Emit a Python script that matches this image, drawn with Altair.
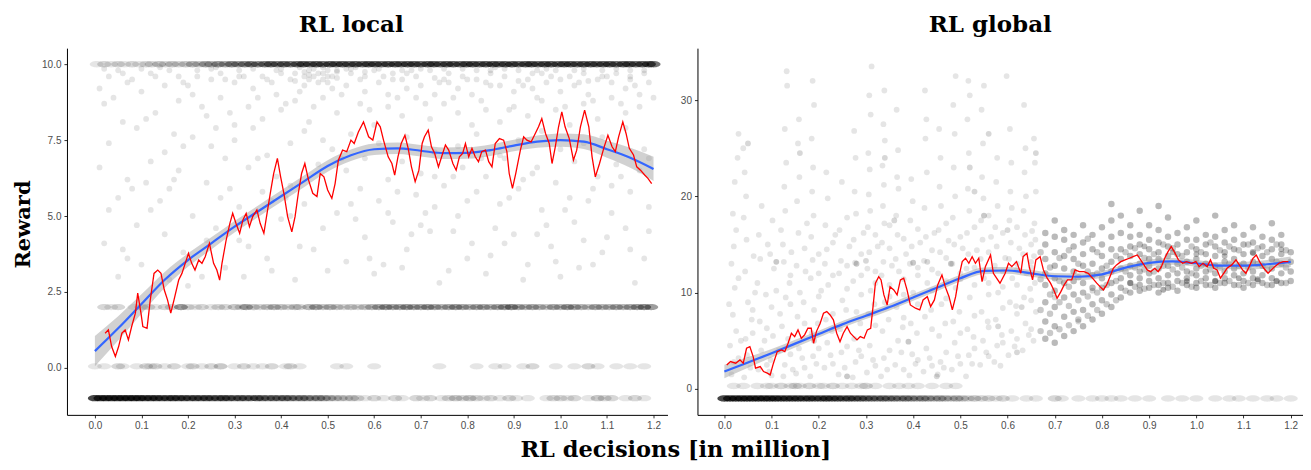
import altair as alt
import pandas as pd

# ---------------- data ----------------
X_TICKS = [0.0, 0.1, 0.2, 0.3, 0.4, 0.5, 0.6, 0.7, 0.8, 0.9, 1.0, 1.1, 1.2]
LEFT_Y_TICKS = [0.0, 2.5, 5.0, 7.5, 10.0]
RIGHT_Y_TICKS = [0, 10, 20, 30]

# RL local: scattered rewards (x in million decisions, reward)
local_scatter = [(0.01,9.2),(0.01,6.6),(0.02,4.1),(0.02,8.7),(0.03,9.6),(0.03,7.4),(0.05,3.0),(0.05,5.6),(0.05,9.8),(0.06,8.1),(0.07,6.2),(0.07,9.4),(0.09,4.7),(0.09,7.9),(0.10,9.1),(0.10,3.4),(0.12,6.8),(0.12,9.7),(0.12,5.2),(0.13,8.4),(0.15,7.1),(0.15,9.3),(0.15,4.4),(0.16,5.9),(0.18,8.8),(0.18,6.5),(0.18,9.6),(0.19,3.8),(0.21,7.6),(0.21,9.0),(0.21,5.0),(0.22,9.8),(0.24,6.1),(0.24,8.3),(0.24,4.2),(0.25,9.5),(0.25,7.3),(0.27,5.6),(0.27,8.9),(0.27,9.7),(0.28,3.3),(0.28,6.9),(0.30,8.0),(0.30,9.4),(0.30,7.5),(0.31,5.3),(0.31,9.8),(0.33,6.6),(0.33,8.6),(0.33,4.0),(0.34,9.2),(0.34,7.9),(0.36,5.8),(0.36,9.6),(0.36,8.2),(0.37,3.6),(0.37,7.0),(0.39,9.0),(0.39,6.3),(0.39,9.8),(0.40,8.5),(0.40,4.9),(0.42,7.4),(0.42,9.5),(0.42,6.0),(0.43,9.7),(0.43,8.8),(0.43,2.9),(0.45,9.6),(0.45,9.3),(0.45,5.4),(0.45,7.8),(0.46,9.8),(0.46,9.5),(0.46,8.1),(0.48,9.7),(0.48,9.4),(0.48,6.7),(0.49,9.9),(0.49,4.6),(0.49,8.9),(0.51,9.6),(0.51,7.2),(0.51,9.2),(0.52,5.1),(0.52,9.8),(0.52,8.4),(0.54,6.5),(0.54,9.3),(0.54,3.5),(0.55,9.7),(0.55,7.7),(0.57,8.7),(0.57,5.9),(0.57,9.5),(0.58,4.3),(0.58,9.1),(0.58,6.9),(0.60,9.8),(0.60,8.0),(0.60,3.1),(0.61,7.4),(0.61,9.4),(0.61,5.5),(0.63,9.0),(0.63,6.2),(0.63,8.6),(0.64,9.7),(0.64,4.8),(0.66,8.3),(0.66,9.5),(0.66,6.8),(0.67,3.9),(0.67,9.2),(0.67,7.6),(0.69,9.6),(0.69,5.7),(0.69,8.9),(0.70,6.4),(0.70,9.3),(0.72,9.8),(0.72,8.2),(0.72,4.5),(0.73,7.1),(0.73,9.0),(0.73,5.3),(0.75,9.5),(0.75,6.0),(0.75,8.7),(0.76,3.2),(0.76,9.7),(0.78,8.4),(0.78,9.2),(0.78,7.3),(0.78,5.0),(0.79,9.6),(0.79,6.6),(0.81,9.0),(0.81,4.1),(0.81,8.0),(0.82,9.8),(0.82,7.7),(0.82,5.8),(0.84,6.3),(0.84,9.4),(0.84,8.5),(0.85,9.7),(0.85,3.7),(0.87,8.1),(0.87,9.3),(0.87,5.4),(0.87,7.0),(0.88,9.6),(0.88,6.9),(0.90,9.1),(0.90,4.4),(0.90,8.6),(0.91,9.8),(0.91,7.5),(0.91,5.9),(0.93,8.3),(0.93,9.5),(0.93,3.4),(0.94,6.4),(0.94,9.2),(0.96,9.7),(0.96,7.8),(0.96,5.2),(0.96,8.8),(0.97,9.4),(0.97,4.7),(0.99,8.5),(0.99,9.8),(0.99,6.1),(1.00,7.2),(1.00,9.1),(1.00,3.0),(1.02,9.6),(1.02,8.0),(1.02,5.6),(1.03,9.3),(1.03,6.8),(1.05,8.7),(1.05,9.7),(1.05,4.2),(1.05,7.4),(1.06,9.0),(1.06,5.5),(1.08,9.5),(1.08,8.2),(1.08,6.3),(1.09,9.8),(1.09,3.8),(1.09,7.6),(1.11,8.9),(1.11,9.4),(1.11,5.1),(1.12,9.7),(1.12,6.7),(1.14,8.4),(1.14,9.2),(1.14,4.6),(1.14,7.9),(1.15,9.6),(1.15,5.8),(1.17,9.0),(1.17,8.6),(1.17,6.5),(1.18,9.8),(1.18,3.6),(1.18,7.2),(1.19,9.4),(1.19,5.3)]
local_scatter_2 = [(0.04,8.9),(0.08,9.5),(0.11,8.2),(0.14,9.9),(0.17,7.7),(0.20,9.3),(0.23,8.6),(0.26,9.9),(0.29,8.4),(0.32,9.6),(0.35,8.9),(0.38,9.4),(0.41,8.7),(0.44,9.9),(0.44,9.1),(0.47,9.6),(0.47,8.6),(0.50,9.4),(0.50,9.8),(0.53,9.0),(0.56,9.9),(0.59,8.5),(0.62,9.6),(0.65,8.9),(0.68,9.8),(0.71,8.7),(0.74,9.4),(0.77,8.9),(0.80,9.5),(0.83,8.8),(0.86,9.9),(0.89,8.5),(0.92,9.3),(0.95,8.9),(0.98,9.6),(1.01,8.6),(1.04,9.4),(1.07,8.8),(1.10,9.6),(1.13,8.7),(1.16,9.3),(1.20,8.9),(0.06,3.9),(0.14,5.5),(0.20,2.7),(0.26,4.6),(0.32,3.0),(0.38,5.5),(0.44,4.0),(0.50,3.2),(0.56,4.9),(0.62,3.4),(0.68,4.4),(0.74,2.8),(0.80,3.6),(0.86,4.6),(0.92,2.9),(0.98,4.0),(1.04,3.3),(1.10,4.3),(1.16,2.8),(0.08,5.9),(0.17,6.2),(0.29,5.9),(0.41,5.6),(0.53,6.9),(0.65,5.8),(0.71,5.1),(0.77,6.3),(0.83,6.9),(0.89,5.6),(0.95,6.6),(1.01,5.2),(1.07,5.9),(1.13,6.3),(1.19,6.9),(0.45,9.75),(0.47,9.85),(0.49,9.7),(0.50,9.6),(0.52,9.75),(0.54,9.85),(0.40,9.7),(0.58,9.75),(0.66,9.8),(0.75,9.85),(0.85,9.8),(0.95,9.8),(1.05,9.85),(1.15,9.8)]
local_scatter_3 = [(0.02,9.85),(0.06,9.7),(0.10,9.85),(0.13,9.6),(0.16,9.8),(0.19,9.4),(0.22,9.6),(0.25,9.85),(0.28,9.5),(0.31,9.6),(0.34,9.85),(0.37,9.5),(0.40,9.85),(0.43,9.45),(0.46,9.65),(0.49,9.5),(0.52,9.55),(0.55,9.85),(0.58,9.6),(0.61,9.85),(0.64,9.5),(0.67,9.7),(0.70,9.85),(0.73,9.55),(0.76,9.4),(0.79,9.85),(0.82,9.5),(0.85,9.3),(0.88,9.85),(0.91,9.45),(0.94,9.7),(0.97,9.85),(1.00,9.5),(1.03,9.8),(1.06,9.45),(1.09,9.6),(1.12,9.85),(1.15,9.5),(1.18,9.7),(0.03,5.2),(0.07,3.6),(0.11,6.1),(0.16,2.9),(0.19,7.3),(0.23,3.0),(0.26,7.9),(0.31,4.2),(0.35,6.9),(0.38,3.2),(0.42,5.0),(0.47,3.9),(0.49,7.5),(0.55,5.4),(0.59,3.6),(0.63,5.1),(0.66,3.3),(0.70,4.7),(0.73,6.3),(0.77,4.5),(0.80,5.5),(0.84,3.1),(0.88,4.1),(0.92,6.2),(0.95,4.4),(0.99,3.5),(1.03,4.8),(1.07,3.4),(1.11,6.0),(1.15,3.9),(1.19,4.5)]

# RL local: repeated reward levels (x, number of overlapping observations)
local_band_10 = [(0.004,1),(0.02,2),(0.035,1),(0.05,2),(0.063,1),(0.08,2),(0.095,1),(0.11,2),(0.122,2),(0.138,3),(0.152,2),(0.166,3),(0.18,2),(0.195,3),(0.21,4),(0.224,3),(0.238,5),(0.25,4),(0.265,6),(0.28,5),(0.294,7),(0.308,6),(0.322,7),(0.336,8),(0.35,7),(0.365,8),(0.378,9),(0.392,8),(0.406,9),(0.42,8),(0.435,9),(0.448,10),(0.462,9),(0.476,10),(0.49,9),(0.505,10),(0.518,9),(0.532,10),(0.546,9),(0.56,10),(0.575,9),(0.588,10),(0.602,10),(0.616,9),(0.63,10),(0.645,10),(0.658,9),(0.672,10),(0.686,10),(0.70,9),(0.715,10),(0.728,10),(0.742,9),(0.756,10),(0.77,10),(0.785,9),(0.798,10),(0.812,10),(0.826,9),(0.84,10),(0.855,10),(0.868,9),(0.882,10),(0.896,10),(0.91,9),(0.925,10),(0.938,10),(0.952,9),(0.966,10),(0.98,10),(0.995,9),(1.008,10),(1.022,10),(1.036,9),(1.05,10),(1.065,10),(1.078,9),(1.092,10),(1.106,10),(1.12,9),(1.135,10),(1.148,10),(1.162,9),(1.176,10),(1.19,10),(1.2,9)]
local_band_2 = [(0.02,2),(0.035,1),(0.05,2),(0.085,1),(0.10,2),(0.115,2),(0.13,1),(0.15,2),(0.165,2),(0.185,6),(0.20,2),(0.215,1),(0.23,2),(0.25,1),(0.265,2),(0.28,2),(0.30,3),(0.315,2),(0.325,5),(0.34,3),(0.355,2),(0.37,3),(0.385,4),(0.40,3),(0.415,2),(0.43,3),(0.44,2),(0.46,4),(0.475,5),(0.49,3),(0.505,4),(0.52,3),(0.535,2),(0.55,3),(0.565,2),(0.58,3),(0.595,4),(0.61,5),(0.625,6),(0.64,5),(0.655,5),(0.67,6),(0.685,5),(0.70,5),(0.715,6),(0.73,5),(0.745,4),(0.76,5),(0.775,6),(0.79,5),(0.805,4),(0.82,5),(0.835,5),(0.85,4),(0.865,5),(0.88,6),(0.895,7),(0.91,5),(0.925,4),(0.94,5),(0.955,4),(0.97,3),(0.985,5),(1.0,4),(1.015,6),(1.03,5),(1.045,4),(1.06,3),(1.075,5),(1.09,4),(1.105,4),(1.12,5),(1.135,4),(1.15,5),(1.165,6),(1.18,7),(1.195,6)]
local_band_0 = [(0.0,1),(0.02,1),(0.05,2),(0.06,1),(0.09,1),(0.11,2),(0.12,1),(0.13,2),(0.15,1),(0.17,2),(0.20,1),(0.21,2),(0.23,1),(0.25,2),(0.27,3),(0.30,1),(0.32,2),(0.34,1),(0.36,1),(0.38,2),(0.41,1),(0.42,2),(0.44,1),(0.52,1),(0.54,1),(0.60,1),(0.74,1),(0.82,1),(0.86,1),(0.88,1),(0.92,1),(0.94,2),(0.99,1),(1.03,1),(1.06,2),(1.08,1),(1.12,1),(1.15,1),(1.18,1)]
local_band_m1 = [(0.0,12),(0.012,12),(0.024,12),(0.036,12),(0.048,12),(0.06,12),(0.072,12),(0.084,12),(0.096,12),(0.108,11),(0.12,11),(0.132,11),(0.144,10),(0.156,10),(0.168,11),(0.18,10),(0.192,10),(0.204,9),(0.216,10),(0.228,9),(0.24,10),(0.252,9),(0.264,9),(0.276,10),(0.288,9),(0.30,8),(0.312,9),(0.324,8),(0.336,8),(0.348,9),(0.36,8),(0.372,7),(0.384,8),(0.396,7),(0.408,8),(0.42,7),(0.432,6),(0.444,7),(0.456,6),(0.468,5),(0.48,6),(0.492,5),(0.504,4),(0.516,3),(0.528,3),(0.54,2),(0.552,3),(0.564,2),(0.58,1),(0.60,2),(0.62,1),(0.645,2),(0.66,1),(0.69,2),(0.705,1),(0.72,2),(0.745,1),(0.76,2),(0.775,3),(0.79,2),(0.805,3),(0.82,2),(0.835,1),(0.85,2),(0.87,1),(0.89,2),(0.905,1),(0.93,1),(0.97,1),(0.985,2),(1.0,2),(1.015,1),(1.03,2),(1.06,1),(1.08,3),(1.095,2),(1.11,2),(1.14,1),(1.16,2),(1.18,1)]
LOCAL_BAND_LEVELS = [10.0, 2.0, 0.05, -1.0]

# RL local: moving average (red) and smoother with confidence band (blue)
local_ma = [(0.022,1.14),(0.029,1.25),(0.036,0.70),(0.044,0.37),(0.051,0.70),(0.058,1.14),(0.065,1.25),(0.072,0.92),(0.079,1.36),(0.087,1.80),(0.092,2.46),(0.099,1.80),(0.103,1.36),(0.112,1.30),(0.119,2.24),(0.127,3.11),(0.135,3.22),(0.142,3.11),(0.149,2.57),(0.156,2.24),(0.163,1.80),(0.170,2.24),(0.180,2.89),(0.187,3.11),(0.194,3.44),(0.201,3.77),(0.208,3.44),(0.215,3.22),(0.223,3.55),(0.230,3.44),(0.237,3.66),(0.246,4.10),(0.255,3.44),(0.262,3.22),(0.268,2.89),(0.273,3.44),(0.282,4.21),(0.290,4.76),(0.296,5.09),(0.303,4.76),(0.311,4.43),(0.318,4.87),(0.325,5.09),(0.332,4.65),(0.339,4.98),(0.348,5.20),(0.355,4.76),(0.363,4.43),(0.371,5.20),(0.378,5.86),(0.384,6.40),(0.392,6.90),(0.399,6.29),(0.406,5.75),(0.414,4.98),(0.423,4.48),(0.430,4.98),(0.437,5.75),(0.444,6.40),(0.451,6.73),(0.459,6.18),(0.468,5.75),(0.477,5.64),(0.484,6.40),(0.492,6.29),(0.500,5.86),(0.509,5.58),(0.516,6.07),(0.523,6.84),(0.532,7.17),(0.541,7.12),(0.550,7.50),(0.557,7.39),(0.566,7.77),(0.577,8.10),(0.588,7.61),(0.597,7.50),(0.606,8.10),(0.613,7.94),(0.620,7.50),(0.630,6.95),(0.638,6.73),(0.644,6.35),(0.651,6.95),(0.658,7.39),(0.666,7.66),(0.673,7.23),(0.680,6.62),(0.688,6.13),(0.696,6.51),(0.703,7.39),(0.708,7.61),(0.716,7.83),(0.723,7.28),(0.730,7.06),(0.738,6.62),(0.746,7.01),(0.753,7.34),(0.760,7.17),(0.769,6.73),(0.776,6.51),(0.783,6.95),(0.790,7.06),(0.796,7.39),(0.803,6.95),(0.810,7.23),(0.817,6.95),(0.824,6.79),(0.831,7.12),(0.839,7.17),(0.846,6.79),(0.853,6.62),(0.860,7.39),(0.869,7.55),(0.878,7.50),(0.885,7.12),(0.890,6.40),(0.897,5.91),(0.904,6.40),(0.914,7.17),(0.921,7.61),(0.928,7.50),(0.937,7.44),(0.946,7.72),(0.953,7.94),(0.960,8.21),(0.968,7.72),(0.976,7.39),(0.982,6.73),(0.989,7.28),(0.996,7.94),(1.003,8.43),(1.010,7.94),(1.019,7.55),(1.028,6.84),(1.035,7.17),(1.043,7.94),(1.052,8.49),(1.061,7.94),(1.068,6.95),(1.075,6.29),(1.084,6.73),(1.093,7.23),(1.102,7.66),(1.111,7.28),(1.118,7.12),(1.125,7.61),(1.134,8.10),(1.141,7.72),(1.148,7.23),(1.157,7.01),(1.164,6.62),(1.172,6.51),(1.181,6.35),(1.188,6.24),(1.196,6.07)]
SMOOTH_X = [0.0, 0.05, 0.1, 0.15, 0.2, 0.25, 0.3, 0.35, 0.4, 0.45, 0.5, 0.55, 0.6, 0.65, 0.7, 0.75, 0.8, 0.85, 0.9, 0.95, 1.0, 1.05, 1.1, 1.15, 1.2]
local_smooth = [0.55, 1.3, 2.1, 2.9, 3.55, 4.1, 4.65, 5.15, 5.65, 6.15, 6.65, 7.0, 7.2, 7.23, 7.15, 7.07, 7.08, 7.17, 7.32, 7.45, 7.5, 7.45, 7.2, 6.92, 6.55]
local_smooth_se = [0.5, 0.4, 0.32, 0.26, 0.22, 0.2, 0.19, 0.19, 0.19, 0.19, 0.19, 0.19, 0.19, 0.19, 0.19, 0.19, 0.19, 0.19, 0.19, 0.2, 0.22, 0.24, 0.28, 0.33, 0.4]

# RL global: scattered rewards
global_scatter = [(0.015,1.5),(0.02,2.8),(0.012,4.5),(0.025,6.0),(0.018,7.7),(0.022,10.5),(0.015,13.0),(0.02,14.8),(0.025,16.5),(0.018,18.2),(0.022,21.5),(0.028,24.0),(0.03,26.5),(0.042,1.2),(0.048,3.5),(0.045,5.2),(0.05,9.0),(0.044,12.2),(0.047,15.5),(0.041,17.8),(0.046,20.0),(0.043,22.5),(0.04,25.0),(0.072,2.0),(0.078,4.0),(0.075,7.0),(0.07,11.0),(0.076,13.5),(0.073,16.0),(0.079,19.0),(0.1,1.4),(0.098,3.0),(0.103,5.5),(0.1,8.5),(0.105,12.5),(0.097,14.0),(0.102,17.5),(0.125,1.3),(0.128,2.5),(0.122,6.5),(0.13,9.5),(0.126,13.2),(0.124,15.0),(0.129,18.5),(0.127,21.0),(0.131,23.5),(0.128,27.0),(0.133,31.5),(0.132,33.0),(0.152,1.6),(0.158,4.2),(0.155,7.5),(0.16,10.0),(0.153,12.8),(0.157,16.2),(0.154,19.5),(0.159,22.0),(0.156,25.5),(0.158,28.0),(0.182,1.3),(0.188,3.4),(0.185,5.8),(0.19,8.2),(0.183,11.5),(0.187,13.4),(0.184,15.8),(0.189,18.0),(0.186,20.5),(0.188,23.0),(0.185,26.0),(0.19,29.5),(0.187,32.0),(0.212,2.2),(0.218,4.8),(0.215,7.2),(0.22,10.8),(0.213,13.0),(0.217,14.5),(0.214,17.0),(0.219,19.8),(0.216,22.5),(0.242,1.5),(0.248,3.8),(0.245,6.2),(0.25,9.2),(0.243,12.0),(0.247,13.3),(0.244,16.5),(0.249,21.5),(0.272,1.2),(0.278,2.8),(0.275,5.2),(0.28,8.0),(0.273,11.2),(0.277,13.1),(0.274,15.5),(0.279,18.2),(0.276,20.5),(0.278,24.0),(0.275,26.8),(0.302,1.7),(0.308,4.5),(0.305,7.8),(0.31,10.2),(0.303,12.5),(0.307,14.2),(0.304,16.8),(0.309,18.5),(0.306,20.2),(0.308,22.8),(0.305,24.5),(0.31,28.5),(0.307,30.5),(0.312,33.5),(0.332,1.3),(0.338,3.2),(0.335,6.0),(0.34,9.0),(0.333,11.8),(0.337,13.2),(0.334,15.2),(0.339,17.2),(0.336,19.0),(0.338,21.2),(0.335,23.2),(0.34,25.8),(0.337,27.5),(0.339,31.0),(0.362,2.5),(0.368,5.0),(0.365,8.5),(0.37,12.2),(0.363,13.5),(0.367,16.0),(0.364,18.0),(0.369,20.8),(0.366,22.0),(0.368,24.8),(0.365,29.0),(0.392,1.4),(0.398,3.6),(0.395,6.8),(0.4,10.0),(0.393,13.0),(0.397,14.8),(0.394,17.5),(0.399,19.5),(0.396,21.8),(0.422,1.8),(0.428,4.2),(0.425,7.5),(0.43,11.0),(0.423,13.3),(0.427,15.8),(0.424,18.8),(0.429,22.5),(0.426,26.0),(0.428,28.0),(0.425,31.0),(0.452,1.5),(0.458,2.8),(0.455,5.5),(0.46,8.8),(0.453,12.0),(0.457,14.2),(0.454,16.5),(0.459,19.0),(0.456,21.0),(0.458,24.0),(0.455,27.0),(0.482,2.0),(0.488,4.8),(0.485,7.0),(0.49,10.5),(0.483,13.0),(0.487,15.0),(0.484,17.8),(0.489,20.0),(0.486,23.0),(0.488,26.5),(0.485,29.5),(0.49,32.5),(0.512,1.3),(0.518,3.5),(0.515,6.2),(0.52,9.5),(0.513,12.5),(0.517,14.0),(0.514,16.2),(0.519,18.5),(0.516,20.8),(0.518,24.5),(0.515,28.0),(0.52,30.5),(0.517,32.0),(0.542,2.5),(0.548,5.0),(0.545,8.0),(0.55,11.5),(0.543,13.5),(0.547,15.5),(0.544,17.5),(0.549,19.8),(0.546,22.0),(0.548,25.5),(0.545,29.0),(0.55,31.5),(0.572,2.8),(0.578,4.5),(0.575,7.2),(0.58,10.0),(0.573,12.8),(0.577,14.8),(0.574,16.8),(0.579,19.0),(0.576,21.5),(0.578,24.0),(0.602,3.5),(0.608,6.0),(0.605,9.0),(0.61,11.5),(0.603,13.5),(0.607,15.2),(0.604,17.5),(0.609,18.8),(0.606,20.5),(0.608,23.5),(0.605,27.0),(0.598,32.5),(0.632,4.0),(0.638,6.8),(0.635,9.5),(0.64,12.0),(0.633,14.0),(0.637,16.0),(0.634,18.5),(0.639,20.0),(0.636,22.5),(0.638,25.0),(0.635,29.5),(0.655,5.0),(0.66,8.0),(0.658,11.0),(0.656,13.8),(0.659,15.5),(0.657,17.2),(0.66,20.5),(0.658,23.5),(0.656,26.0)]
global_scatter_2 = [(0.03,3.2),(0.06,5.8),(0.06,8.2),(0.09,2.5),(0.09,6.3),(0.11,10.2),(0.14,3.6),(0.14,8.8),(0.14,11.8),(0.17,2.2),(0.17,6.8),(0.17,14.6),(0.2,4.2),(0.2,9.6),(0.2,12.0),(0.23,2.6),(0.23,7.8),(0.23,15.2),(0.26,4.4),(0.26,10.4),(0.26,17.8),(0.29,3.4),(0.29,9.8),(0.29,14.0),(0.32,2.4),(0.32,6.6),(0.32,12.2),(0.32,16.0),(0.35,4.0),(0.35,9.6),(0.35,14.6),(0.35,17.0),(0.38,2.0),(0.38,7.4),(0.38,11.4),(0.38,15.6),(0.41,3.0),(0.41,8.8),(0.41,12.6),(0.41,16.6),(0.44,2.4),(0.44,6.2),(0.44,10.2),(0.44,14.4),(0.47,3.8),(0.47,9.4),(0.47,13.6),(0.47,17.2),(0.5,2.6),(0.5,5.8),(0.5,11.4),(0.5,15.8),(0.53,4.2),(0.53,7.6),(0.53,12.6),(0.53,16.8),(0.56,3.4),(0.56,6.4),(0.56,9.8),(0.56,14.2),(0.56,18.0),(0.59,4.8),(0.59,8.4),(0.59,12.2),(0.59,16.2),(0.62,5.2),(0.62,7.8),(0.62,10.8),(0.62,13.0),(0.62,16.8),(0.65,6.2),(0.65,9.2),(0.65,12.6),(0.65,15.0)]
global_scatter_3 = [(0.01,8.8),(0.03,11.5),(0.035,5.0),(0.055,2.2),(0.058,7.2),(0.062,13.8),(0.065,10.0),(0.085,5.0),(0.088,9.8),(0.092,15.0),(0.095,1.8),(0.115,4.0),(0.118,7.8),(0.12,16.5),(0.135,5.2),(0.138,11.0),(0.142,14.2),(0.145,2.0),(0.165,3.2),(0.168,9.0),(0.172,12.2),(0.175,17.2),(0.195,2.6),(0.198,6.8),(0.2,14.0),(0.205,10.2),(0.225,3.5),(0.228,6.0),(0.23,11.8),(0.235,16.0),(0.255,2.2),(0.258,8.2),(0.26,12.8),(0.265,14.8),(0.285,4.0),(0.288,6.8),(0.29,11.8),(0.295,16.2),(0.315,3.0),(0.318,8.8),(0.32,11.0),(0.325,14.8),(0.345,2.0),(0.348,7.2),(0.35,10.8),(0.355,12.8),(0.375,3.8),(0.378,6.4),(0.38,9.8),(0.385,14.0),(0.405,2.6),(0.408,5.8),(0.41,11.8),(0.415,15.2),(0.435,3.2),(0.438,8.2),(0.44,12.4),(0.445,16.2),(0.465,2.2),(0.468,6.8),(0.47,11.2),(0.475,15.4),(0.495,3.4),(0.498,8.0),(0.5,12.0),(0.505,14.6),(0.525,2.6),(0.528,5.4),(0.53,10.8),(0.535,14.4),(0.555,3.8),(0.558,7.0),(0.56,11.0),(0.565,15.8),(0.585,2.4),(0.588,5.6),(0.59,10.6),(0.595,13.6),(0.615,4.4),(0.618,8.6),(0.62,12.4),(0.625,14.6),(0.645,5.6),(0.648,10.4),(0.65,13.2),(0.652,16.4)]
# later, denser phase (x, reward) - each mark stands for four observations
global_dense = [(0.68,5.2),(0.68,7.0),(0.68,9.0),(0.68,10.8),(0.68,12.0),(0.68,13.5),(0.68,15.0),(0.68,16.2),(0.70,4.8),(0.70,6.5),(0.70,8.5),(0.70,10.2),(0.70,11.5),(0.70,12.8),(0.70,14.2),(0.70,15.8),(0.70,17.5),(0.72,5.5),(0.72,7.5),(0.72,9.5),(0.72,11.0),(0.72,12.5),(0.72,13.8),(0.72,15.5),(0.72,16.5),(0.74,6.0),(0.74,8.0),(0.74,9.8),(0.74,11.2),(0.74,12.2),(0.74,13.5),(0.74,14.8),(0.74,16.0),(0.76,6.5),(0.76,8.2),(0.76,10.0),(0.76,11.0),(0.76,12.8),(0.76,14.0),(0.76,15.2),(0.76,17.0),(0.78,7.2),(0.78,8.8),(0.78,10.5),(0.78,11.8),(0.78,13.0),(0.78,14.5),(0.78,16.0),(0.80,7.8),(0.80,9.2),(0.80,10.5),(0.80,11.5),(0.80,12.5),(0.80,13.8),(0.80,15.0),(0.80,16.8),(0.82,8.5),(0.82,9.8),(0.82,11.0),(0.82,12.2),(0.82,13.2),(0.82,14.5),(0.82,15.8),(0.82,17.5),(0.82,19.2),(0.84,9.5),(0.84,10.5),(0.84,11.5),(0.84,12.5),(0.84,13.5),(0.84,14.5),(0.84,16.2),(0.84,18.0),(0.86,10.0),(0.86,11.0),(0.86,11.8),(0.86,12.8),(0.86,13.8),(0.86,14.8),(0.86,15.8),(0.86,17.0),(0.88,10.2),(0.88,10.8),(0.88,11.5),(0.88,12.2),(0.88,13.0),(0.88,14.0),(0.88,15.0),(0.88,16.0),(0.88,18.5),(0.90,10.5),(0.90,11.2),(0.90,12.0),(0.90,12.8),(0.90,13.5),(0.90,14.5),(0.90,15.5),(0.90,17.0),(0.92,10.0),(0.92,10.8),(0.92,11.5),(0.92,12.5),(0.92,13.5),(0.92,14.2),(0.92,15.2),(0.92,16.5),(0.92,19.0),(0.94,10.5),(0.94,11.0),(0.94,11.8),(0.94,12.8),(0.94,13.8),(0.94,14.8),(0.94,15.8),(0.94,17.8),(0.96,10.2),(0.96,11.2),(0.96,12.0),(0.96,13.0),(0.96,14.0),(0.96,15.0),(0.96,16.2),(0.98,10.8),(0.98,11.5),(0.98,12.2),(0.98,13.2),(0.98,14.2),(0.98,15.5),(0.98,16.8),(1.00,10.5),(1.00,11.0),(1.00,11.8),(1.00,12.5),(1.00,13.5),(1.00,14.5),(1.00,15.5),(1.00,17.5),(1.02,10.8),(1.02,11.5),(1.02,12.2),(1.02,13.0),(1.02,14.0),(1.02,15.0),(1.02,16.0),(1.04,10.5),(1.04,11.2),(1.04,12.0),(1.04,12.8),(1.04,13.8),(1.04,14.8),(1.04,15.8),(1.04,18.0),(1.06,11.0),(1.06,11.5),(1.06,12.2),(1.06,13.2),(1.06,14.2),(1.06,15.2),(1.06,16.5),(1.08,10.8),(1.08,11.8),(1.08,12.5),(1.08,13.5),(1.08,14.5),(1.08,15.5),(1.08,17.0),(1.10,10.5),(1.10,11.2),(1.10,12.0),(1.10,13.0),(1.10,14.0),(1.10,15.0),(1.10,16.0),(1.12,10.8),(1.12,11.5),(1.12,12.2),(1.12,13.2),(1.12,14.2),(1.12,15.2),(1.12,16.8),(1.14,11.0),(1.14,11.8),(1.14,12.8),(1.14,13.8),(1.14,14.8),(1.14,15.8),(1.16,10.8),(1.16,11.5),(1.16,12.5),(1.16,13.5),(1.16,14.5),(1.16,15.5),(1.16,17.2),(1.18,11.0),(1.18,12.0),(1.18,13.0),(1.18,14.0),(1.18,15.0),(1.18,16.0),(1.20,11.2),(1.20,12.2),(1.20,13.2),(1.20,14.2)]
# same phase, marks standing for three observations
global_dense_2 = [(0.67,6.0),(0.67,8.2),(0.67,11.4),(0.67,14.2),(0.69,5.8),(0.69,7.8),(0.69,9.8),(0.69,12.6),(0.71,6.2),(0.71,9.0),(0.71,11.2),(0.71,13.6),(0.73,6.6),(0.73,8.6),(0.73,10.6),(0.73,14.4),(0.75,7.2),(0.75,9.2),(0.75,11.6),(0.75,13.0),(0.77,7.6),(0.77,9.6),(0.77,12.2),(0.77,15.6),(0.79,8.2),(0.79,10.0),(0.79,12.0),(0.79,14.2),(0.81,8.8),(0.81,10.8),(0.81,12.8),(0.83,9.2),(0.83,11.2),(0.83,13.8),(0.85,10.2),(0.85,12.2),(0.85,14.2),(0.87,10.6),(0.87,12.6),(0.87,14.6),(0.89,10.4),(0.89,12.4),(0.89,13.6),(0.91,10.8),(0.91,12.2),(0.91,14.0),(0.93,11.0),(0.93,12.8),(0.93,15.0),(0.95,10.6),(0.95,12.4),(0.95,14.6),(0.97,11.0),(0.97,12.6),(0.97,13.8),(0.99,10.6),(0.99,12.0),(0.99,14.8),(1.01,11.2),(1.01,12.8),(1.01,14.2),(1.03,10.8),(1.03,12.4),(1.03,15.2),(1.05,11.0),(1.05,12.6),(1.05,14.4),(1.07,11.2),(1.07,13.0),(1.07,14.8),(1.09,10.8),(1.09,12.8),(1.09,14.4),(1.11,11.0),(1.11,12.6),(1.11,15.0),(1.13,11.2),(1.13,13.0),(1.13,14.6),(1.15,10.8),(1.15,12.4),(1.15,14.2),(1.17,11.2),(1.17,13.2),(1.17,15.0),(1.19,11.0),(1.19,12.6),(1.19,14.4)]
# heavier overlaps (x, reward, observations)
global_clusters = [(0.11,13.2,3),(0.28,13.0,3),(0.30,13.3,2),(0.40,13.1,3),(0.43,13.2,2),(0.48,13.0,3),(0.36,17.5,2),(0.34,24.0,2),(0.26,1.3,3),(0.45,1.3,2),(0.39,4.9,3),(0.55,18.0,3),(0.60,16.5,2),(0.52,23.0,2),(0.56,26.5,2),(0.16,24.5,2),(0.05,25.5,2),(0.66,24.5,2),(0.53,20.5,2),(0.19,5.0,2),(0.58,6.5,2),(0.63,8.5,2),(0.70,9.5,2),(0.75,7.0,2),(0.62,3.8,2),(0.78,10.2,2),(0.86,11.0,4),(0.93,10.3,5),(0.98,11.2,5),(1.04,11.2,5),(1.09,11.5,5),(1.13,11.4,5),(1.17,11.2,4),(0.89,14.8,4),(0.95,14.2,4),(1.0,14.0,4),(1.06,13.8,4),(1.12,14.1,4),(1.18,14.5,4)]
global_band_m1 = [(0.0,12),(0.012,12),(0.024,12),(0.036,12),(0.048,12),(0.06,12),(0.072,12),(0.084,12),(0.096,12),(0.108,12),(0.12,11),(0.132,11),(0.144,11),(0.156,11),(0.168,10),(0.18,11),(0.192,10),(0.204,10),(0.216,11),(0.228,10),(0.24,10),(0.252,9),(0.264,10),(0.276,9),(0.288,9),(0.30,8),(0.312,8),(0.324,7),(0.336,8),(0.348,7),(0.36,7),(0.372,6),(0.384,7),(0.396,6),(0.408,5),(0.42,6),(0.432,5),(0.444,4),(0.456,5),(0.468,4),(0.48,3),(0.492,4),(0.504,3),(0.516,2),(0.53,3),(0.545,2),(0.56,2),(0.575,1),(0.59,2),(0.61,1),(0.64,1),(0.66,1),(0.70,2),(0.715,1),(0.75,1),(0.78,1),(0.80,1),(0.82,1),(0.84,1),(0.87,1),(0.90,1),(0.94,1),(0.97,1),(1.0,1),(1.04,1),(1.07,1),(1.09,1),(1.12,1),(1.15,1),(1.17,1),(1.2,1)]
global_band_0 = [(0.02,1),(0.04,1),(0.07,1),(0.09,1),(0.1,1),(0.12,2),(0.14,1),(0.15,2),(0.16,1),(0.18,2),(0.2,1),(0.21,1),(0.23,2),(0.25,1),(0.27,1),(0.29,1),(0.3,2),(0.32,1),(0.35,1),(0.37,1),(0.39,1),(0.41,1),(0.44,1),(0.47,1),(0.49,1)]
GLOBAL_BAND_LEVELS = [-1.0, 0.3]

global_ma = [(0.005,2.49),(0.013,2.84),(0.024,2.67),(0.033,3.01),(0.040,2.67),(0.047,4.22),(0.054,4.39),(0.061,3.35),(0.066,2.15),(0.076,2.32),(0.083,1.80),(0.091,1.63),(0.097,1.45),(0.104,2.67),(0.112,3.87),(0.121,4.05),(0.128,3.87),(0.135,4.74),(0.142,5.78),(0.149,5.43),(0.156,6.13),(0.163,5.26),(0.170,5.61),(0.177,6.30),(0.184,6.30),(0.189,4.74),(0.195,5.95),(0.203,6.82),(0.210,7.86),(0.217,8.03),(0.224,7.68),(0.231,7.17),(0.238,5.78),(0.245,4.91),(0.252,5.78),(0.260,6.47),(0.267,5.78),(0.274,5.43),(0.281,5.09),(0.288,5.43),(0.296,5.26),(0.303,6.13),(0.310,6.30),(0.315,8.55),(0.320,10.98),(0.327,11.66),(0.332,11.32),(0.338,9.76),(0.345,8.72),(0.351,10.62),(0.359,10.28),(0.366,9.76),(0.373,11.32),(0.380,11.50),(0.387,10.28),(0.394,8.72),(0.405,8.38),(0.414,8.20),(0.421,9.24),(0.430,9.58),(0.437,8.55),(0.445,9.24),(0.452,10.80),(0.461,11.84),(0.468,10.62),(0.476,9.58),(0.483,8.20),(0.490,9.58),(0.497,11.66),(0.504,13.22),(0.511,13.57),(0.518,13.05),(0.525,13.74),(0.532,13.05),(0.539,13.57),(0.546,11.14),(0.553,12.70),(0.564,13.91),(0.570,12.01),(0.584,10.98),(0.595,12.01),(0.602,13.05),(0.609,12.70),(0.619,13.22),(0.628,12.01),(0.633,13.74),(0.641,14.09),(0.646,12.70),(0.653,11.32),(0.660,13.40),(0.669,13.74),(0.676,12.36),(0.684,11.50),(0.691,10.98),(0.698,10.28),(0.705,9.42),(0.713,10.10),(0.720,10.80),(0.727,11.32),(0.736,11.32),(0.743,12.36),(0.752,12.18),(0.762,12.18),(0.771,12.01),(0.780,11.50),(0.789,10.98),(0.796,10.62),(0.803,10.28),(0.810,10.80),(0.817,11.66),(0.824,12.53),(0.831,12.88),(0.840,13.22),(0.849,13.40),(0.858,13.57),(0.866,13.74),(0.875,13.91),(0.882,13.40),(0.889,12.88),(0.896,12.36),(0.903,12.18),(0.912,12.53),(0.919,12.18),(0.926,12.70),(0.933,13.57),(0.940,14.26),(0.947,14.78),(0.955,14.09),(0.962,13.40),(0.971,13.05),(0.979,13.22),(0.990,13.05),(0.999,13.22),(1.006,12.70),(1.014,13.05),(1.023,12.70),(1.030,13.40),(1.037,12.53),(1.044,12.36),(1.051,11.50),(1.058,12.01),(1.065,12.53),(1.075,12.88),(1.084,13.40),(1.091,12.88),(1.098,12.36),(1.105,12.01),(1.112,12.70),(1.120,13.57),(1.127,13.91),(1.134,13.22),(1.143,12.53),(1.152,12.01),(1.159,12.36),(1.166,12.70),(1.175,13.05),(1.184,13.22),(1.195,13.22)]
global_smooth = [1.8, 2.75, 3.7, 4.7, 5.7, 6.7, 7.6, 8.5, 9.5, 10.5, 11.5, 12.25, 12.3, 12.0, 11.7, 11.65, 11.9, 12.6, 13.1, 13.25, 13.05, 12.8, 12.8, 12.95, 13.2]
global_smooth_se = [0.7, 0.55, 0.45, 0.4, 0.35, 0.35, 0.35, 0.35, 0.35, 0.35, 0.35, 0.35, 0.35, 0.35, 0.35, 0.35, 0.35, 0.35, 0.35, 0.35, 0.35, 0.35, 0.4, 0.45, 0.55]

# ---------------- tables ----------------
def pts(pairs, n):
    return [{"x": a, "y": b, "n": n} for a, b in pairs]

def band(items, level):
    return [{"x": a, "y": level, "n": k} for a, k in items]

local_free = pd.DataFrame(pts(local_scatter, 1) + pts(local_scatter_2, 1) + pts(local_scatter_3, 1))
local_rows = pd.DataFrame(
    band(local_band_10, LOCAL_BAND_LEVELS[0]) + band(local_band_2, LOCAL_BAND_LEVELS[1])
    + band(local_band_0, LOCAL_BAND_LEVELS[2]) + band(local_band_m1, LOCAL_BAND_LEVELS[3])
)
global_free = pd.DataFrame(
    pts(global_scatter, 1) + pts(global_scatter_2, 1) + pts(global_scatter_3, 1)
    + [{"x": a, "y": b, "n": k} for a, b, k in global_clusters]
)
global_cloud = pd.DataFrame(pts(global_dense, 4) + pts(global_dense_2, 3))
global_rows = pd.DataFrame(band(global_band_m1, GLOBAL_BAND_LEVELS[0]) + band(global_band_0, GLOBAL_BAND_LEVELS[1]))
local_ma_df = pd.DataFrame(local_ma, columns=["x", "y"])
global_ma_df = pd.DataFrame(global_ma, columns=["x", "y"])
local_sm_df = pd.DataFrame({"x": SMOOTH_X, "y": local_smooth,
                            "lo": [m - s for m, s in zip(local_smooth, local_smooth_se)],
                            "hi": [m + s for m, s in zip(local_smooth, local_smooth_se)]})
global_sm_df = pd.DataFrame({"x": SMOOTH_X, "y": global_smooth,
                             "lo": [m - s for m, s in zip(global_smooth, global_smooth_se)],
                             "hi": [m + s for m, s in zip(global_smooth, global_smooth_se)]})

# ---------------- chart ----------------
SERIF = "DejaVu Serif"
PLOT_H = 367
FREE_OPACITY = alt.Scale(domain=[1, 12], range=[0.1, 0.72], clamp=True)
CLOUD_OPACITY = alt.Scale(domain=[1, 12], range=[0.05, 0.5], clamp=True)
ROW_OPACITY = alt.Scale(domain=[1, 12], range=[0.06, 0.5], clamp=True)
STREAK = "M -1 0 A 1 0.45 0 1 0 1 0 A 1 0.45 0 1 0 -1 0 Z"


def panel(free, rows, ma, sm, xdom, ydom, yaxis, title, width, cloud=None):
    xs = alt.Scale(domain=xdom, nice=False, zero=False)
    ys = alt.Scale(domain=ydom, nice=False, zero=False)
    xaxis = alt.Axis(values=X_TICKS, format=".1f", title=None, labelOverlap=False)
    layers = [alt.Chart(free).mark_circle(size=34, color="black", clip=True).encode(
        x=alt.X("x:Q", scale=xs, axis=xaxis),
        y=alt.Y("y:Q", scale=ys, axis=yaxis),
        opacity=alt.Opacity("n:Q", scale=FREE_OPACITY, legend=None),
    )]
    if cloud is not None:
        layers.append(alt.Chart(cloud).mark_circle(size=42, color="black", clip=True).encode(
            x=alt.X("x:Q", scale=xs), y=alt.Y("y:Q", scale=ys),
            opacity=alt.Opacity("n:Q", scale=CLOUD_OPACITY, legend=None),
        ))
    layers.append(alt.Chart(rows).mark_point(shape=STREAK, filled=True, size=196, color="black",
                                             strokeWidth=0, clip=True).encode(
        x=alt.X("x:Q", scale=xs), y=alt.Y("y:Q", scale=ys),
        opacity=alt.Opacity("n:Q", scale=ROW_OPACITY, legend=None),
    ))
    layers.append(alt.Chart(sm).mark_area(color="#999999", opacity=0.45, interpolate="monotone", clip=True).encode(
        x=alt.X("x:Q", scale=xs), y=alt.Y("lo:Q", scale=ys), y2="hi:Q"))
    layers.append(alt.Chart(sm).mark_line(color="#3366FF", strokeWidth=2.2, interpolate="monotone", clip=True).encode(
        x=alt.X("x:Q", scale=xs), y=alt.Y("y:Q", scale=ys)))
    layers.append(alt.Chart(ma).mark_line(color="#FF0000", strokeWidth=1.3, clip=True).encode(
        x=alt.X("x:Q", scale=xs), y=alt.Y("y:Q", scale=ys)))
    return alt.layer(*layers).properties(width=width, height=PLOT_H, title=title)


left_yaxis = alt.Axis(values=LEFT_Y_TICKS, format=".1f", title="Reward", titleFont=SERIF,
                      titleFontSize=21, titleFontWeight="bold", titleColor="black", titlePadding=8,
                      titleY=176)
right_yaxis = alt.Axis(values=RIGHT_Y_TICKS, format="d", title=None)

left = panel(local_free, local_rows, local_ma_df, local_sm_df, [-0.06, 1.23], [-1.55, 10.53], left_yaxis,
             alt.TitleParams("RL local", font=SERIF, fontSize=23, fontWeight="bold", color="black",
                             anchor="middle", dx=-16, offset=11), 601)
right = panel(global_free, global_rows, global_ma_df, global_sm_df, [-0.057, 1.226], [-2.7, 35.4], right_yaxis,
              alt.TitleParams("RL global", font=SERIF, fontSize=23, fontWeight="bold", color="black",
                              anchor="middle", dx=-10, offset=11), 606, cloud=global_cloud)

chart = alt.hconcat(left, right, spacing=12, padding={"left": 4, "top": 6, "right": 0, "bottom": 0}).properties(
    title=alt.TitleParams("RL decisions [in million]", orient="bottom", anchor="middle", font=SERIF,
                          fontSize=22.5, fontWeight="bold", color="black", dx=18, offset=8)
).configure_view(strokeWidth=0).configure_axis(
    grid=False, domainColor="#000000", domainWidth=1, tickColor="#333333", tickSize=3,
    labelColor="#4D4D4D", labelFont="Liberation Sans", labelFontSize=10, labelPadding=3,
)

chart.save("out.html", embed_options={"renderer": "svg", "actions": False})
